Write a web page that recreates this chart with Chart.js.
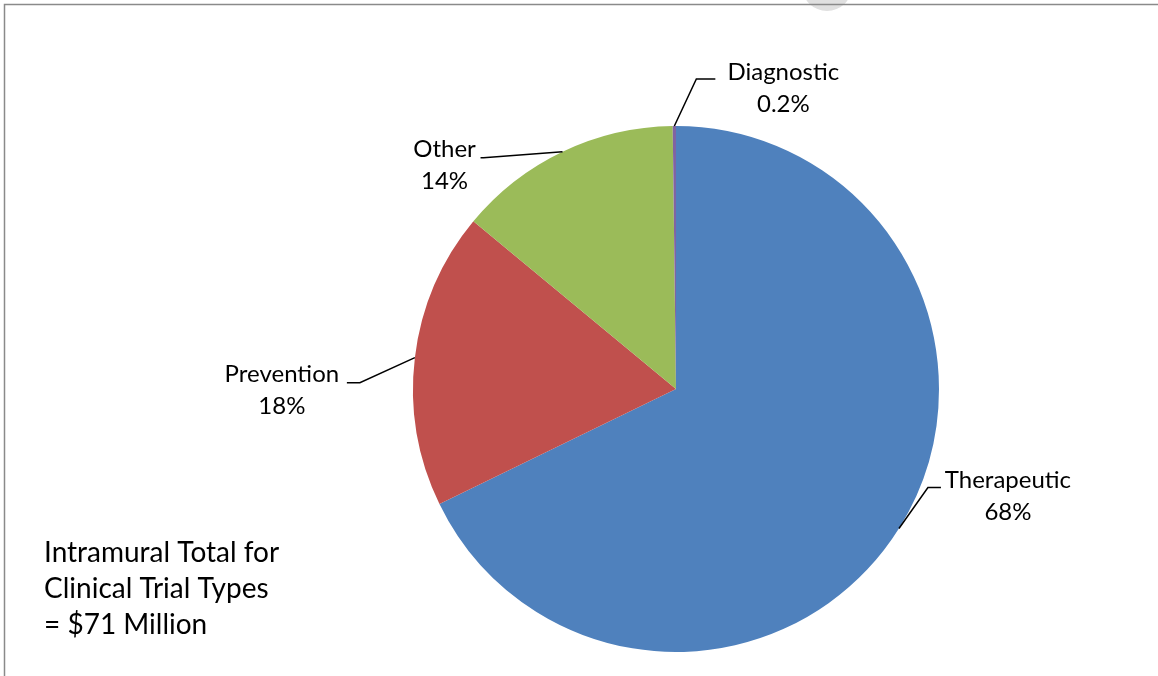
<!DOCTYPE html>
<html>
<head>
<meta charset="utf-8">
<script src="https://cdn.jsdelivr.net/npm/chart.js@4"></script>
<style>
	html, body { margin: 0; padding: 0; background: #fff; }
	#wrap { position: relative; width: 1158px; height: 676px; }
</style>
</head>
<body>
<div id="wrap"><canvas id="myChart" width="1158" height="676"></canvas></div>
<script>
// data
const categories = ['Therapeutic', 'Prevention', 'Other', 'Diagnostic'];
const shares = [67.8, 18.2, 13.8, 0.2];
const sliceColors = ['#4F81BD', '#C0504D', '#9BBB59', '#8064A2'];
const noteLines = ['Intramural Total for', 'Clinical Trial Types', '= $71 Million'];

const FONT = '24px Lato, "Open Sans", sans-serif';
const NOTE_FONT = '28px Lato, "Open Sans", sans-serif';

// leader line + label offsets, relative to the slice's outer mid point
const labelLayout = [
	{ elbow: [29, -41], tail: 13, text: [67, -7] },
	{ elbow: [-55, 25], tail: -13, text: [-65, -8] },
	{ elbow: [-79, 6], tail: -3, text: [-36, -8] },
	{ elbow: [22, -47], tail: 19, text: [68, -7] },
];

function pctText(v) {
	return v >= 1 ? Math.round(v) + '%' : v.toFixed(1) + '%';
}

const pieLabels = {
	id: 'pieLabels',
	beforeDraw(chart) {
		const ctx = chart.ctx;
		ctx.save();
		// frame bits of the original screenshot
		ctx.fillStyle = '#e0e0e0';
		ctx.beginPath();
		ctx.arc(827, -14, 25, 0, Math.PI * 2);
		ctx.fill();
		ctx.strokeStyle = '#8a8a8a';
		ctx.lineWidth = 1.5;
		ctx.beginPath();
		ctx.moveTo(1158, 4.5);
		ctx.lineTo(4.5, 4.5);
		ctx.lineTo(4.5, 676);
		ctx.stroke();
		ctx.restore();
	},
	afterDraw(chart) {
		const ctx = chart.ctx;
		const arcs = chart.getDatasetMeta(0).data;
		ctx.save();
		ctx.font = FONT;
		ctx.fillStyle = '#000';
		ctx.strokeStyle = '#000';
		ctx.lineWidth = 1.5;
		arcs.forEach((arc, i) => {
			const mid = (arc.startAngle + arc.endAngle) / 2;
			const ax = arc.x + Math.cos(mid) * arc.outerRadius;
			const ay = arc.y + Math.sin(mid) * arc.outerRadius;
			const lay = labelLayout[i];
			const ex = ax + lay.elbow[0];
			const ey = ay + lay.elbow[1];
			const tx = ex + lay.tail;
			ctx.beginPath();
			ctx.moveTo(ax, ay);
			ctx.lineTo(ex, ey);
			ctx.lineTo(tx, ey);
			ctx.stroke();
			ctx.textAlign = 'center';
			ctx.textBaseline = 'middle';
			const cx = tx + lay.text[0];
			const cy = ey + lay.text[1];
			ctx.fillText(categories[i], cx, cy);
			ctx.fillText(pctText(shares[i]), cx, cy + 32);
		});
		// total note
		ctx.font = NOTE_FONT;
		ctx.textAlign = 'left';
		ctx.textBaseline = 'middle';
		noteLines.forEach((t, i) => {
			ctx.fillText(t, 44, 553 + i * 36);
		});
		ctx.restore();
	},
};

const context = document.getElementById('myChart').getContext('2d');
const myChart = new Chart(context, {
	type: 'pie',
	data: {
		labels: categories,
		datasets: [{
			data: shares,
			backgroundColor: sliceColors,
			borderWidth: 0,
		}],
	},
	options: {
		responsive: false,
		animation: false,
		layout: {
			padding: { left: 413, right: 219, top: 126, bottom: 24 },
		},
		plugins: {
			legend: { display: false },
			tooltip: { enabled: false },
		},
	},
	plugins: [pieLabels],
});
</script>
</body>
</html>
